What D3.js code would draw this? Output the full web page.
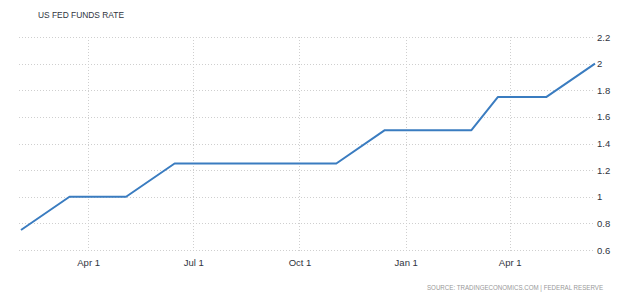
<!DOCTYPE html>
<html>
<head>
<meta charset="utf-8">
<script src="https://cdn.jsdelivr.net/npm/d3@7"></script>
<style>
  body { margin: 0; background: #fff; }
  svg { display: block; font-family: "Liberation Sans", Arial, sans-serif; }
</style>
</head>
<body>
<div id="chart"></div>
<script>
// observation dates and rate (upper bound, %)
var dates = ["2017-02-01", "2017-03-15", "2017-05-03", "2017-06-14", "2017-07-26", "2017-09-20",
             "2017-11-01", "2017-12-13", "2018-02-26", "2018-03-21", "2018-05-02", "2018-06-13"];
var rates = [0.75, 1.00, 1.00, 1.25, 1.25, 1.25, 1.25, 1.50, 1.50, 1.75, 1.75, 2.00];

var xTicks = ["2017-04-01", "2017-07-01", "2017-10-01", "2018-01-01", "2018-04-01"];
var yTicks = [0.6, 0.8, 1, 1.2, 1.4, 1.6, 1.8, 2, 2.2];

var title = "US FED FUNDS RATE",
    source = "SOURCE: TRADINGECONOMICS.COM | FEDERAL RESERVE";

var width = 640,
    height = 298;

var parse = d3.timeParse("%Y-%m-%d");
var data = dates.map(function(d, i) { return {date: parse(d), value: rates[i]}; });

var svg = d3.select("#chart").append("svg")
    .attr("width", width)
    .attr("height", height);

var x = d3.scaleTime()
    .domain(d3.extent(data, function(d) { return d.date; }))
    .range([21, 595]);

var y = d3.scaleLinear()
    .domain([0.6, 2.2])
    .range([250, 37]);

// horizontal grid
svg.append("g")
    .selectAll("line")
    .data(yTicks)
    .enter().append("line")
    .attr("x1", 19)
    .attr("x2", 594)
    .attr("y1", function(d) { return Math.round(y(d)) + 0.5; })
    .attr("y2", function(d) { return Math.round(y(d)) + 0.5; })
    .attr("stroke", "#cfcfcf")
    .attr("stroke-dasharray", "1,2");

// vertical grid
svg.append("g")
    .selectAll("line")
    .data(xTicks.map(parse))
    .enter().append("line")
    .attr("x1", function(d) { return Math.round(x(d)) - 0.5; })
    .attr("x2", function(d) { return Math.round(x(d)) - 0.5; })
    .attr("y1", 37)
    .attr("y2", 253)
    .attr("stroke", "#cfcfcf")
    .attr("stroke-dasharray", "1,2");

// y labels on the right
var yAxis = d3.axisRight(y)
    .tickValues(yTicks)
    .tickSize(0)
    .tickPadding(0)
    .tickFormat(function(d) { return String(+d.toFixed(1)); });

svg.append("g")
    .attr("transform", "translate(597,0)")
    .call(yAxis)
    .call(function(g) { g.select(".domain").remove(); })
    .selectAll("text")
    .attr("fill", "#2f3440")
    .style("font-size", "9.5px");

// x labels
var xAxis = d3.axisBottom(x)
    .tickValues(xTicks.map(parse))
    .tickSize(0)
    .tickPadding(0)
    .tickFormat(d3.timeFormat("%b %-d"));

svg.append("g")
    .attr("transform", "translate(-1,259)")
    .call(xAxis)
    .call(function(g) { g.select(".domain").remove(); })
    .selectAll("text")
    .attr("fill", "#2f3440")
    .style("font-size", "9.5px");

// the line
var line = d3.line()
    .x(function(d) { return x(d.date); })
    .y(function(d) { return y(d.value); });

svg.append("path")
    .datum(data)
    .attr("d", line)
    .attr("fill", "none")
    .attr("stroke", "#3a7cc0")
    .attr("stroke-width", 2)
    .attr("stroke-linejoin", "round");

svg.append("text")
    .attr("x", 38)
    .attr("y", 18)
    .attr("fill", "#2f3440")
    .style("font-size", "9px")
    .attr("textLength", 86)
    .attr("lengthAdjust", "spacingAndGlyphs")
    .text(title);

svg.append("text")
    .attr("x", 603)
    .attr("y", 290)
    .attr("text-anchor", "end")
    .attr("fill", "#999")
    .style("font-size", "7px")
    .attr("textLength", 176)
    .attr("lengthAdjust", "spacingAndGlyphs")
    .text(source);
</script>
</body>
</html>
